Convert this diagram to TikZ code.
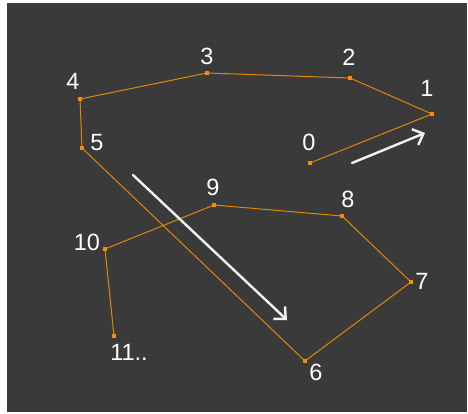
\documentclass[tikz,border=0pt]{standalone}
\usepackage{fontspec}
\setmainfont{Liberation Sans}
\usetikzlibrary{arrows.meta}
\definecolor{bgdark}{RGB}{58,58,58}
\definecolor{pathorange}{RGB}{222,136,10}
\definecolor{dotorange}{RGB}{255,140,0}
\definecolor{arrowwhite}{RGB}{242,242,242}
\tikzset{
  lbl/.style={inner sep=0pt, text=white, font=\fontsize{23.5}{24}\selectfont},
  pathline/.style={draw=pathorange, line width=1pt, line join=round},
  dotmark/.style={fill=dotorange, draw=none, minimum size=4.5pt, inner sep=0pt, rectangle},
  bigarrow/.style={draw=arrowwhite, line width=2.4pt, line cap=round,
    -{Straight Barb[length=9pt,width=17pt,line width=2.4pt]}}
}
\begin{document}
\begin{tikzpicture}[x=1pt,y=-1pt]
\useasboundingbox (0,0) rectangle (468,413);
\fill[white] (0,0) rectangle (468,413);
\fill[bgdark] (7,3) rectangle (467,412);
% points
\coordinate (p0) at (310,163);
\coordinate (p1) at (432,114);
\coordinate (p2) at (350,78);
\coordinate (p3) at (207,73);
\coordinate (p4) at (80,99);
\coordinate (p5) at (82,148);
\coordinate (p6) at (305,361);
\coordinate (p7) at (411,282);
\coordinate (p8) at (342,216);
\coordinate (p9) at (214,205);
\coordinate (p10) at (105,249);
\coordinate (p11) at (114,336);
\draw[pathline] (p0) -- (p1) -- (p2) -- (p3) -- (p4) -- (p5) -- (p6) -- (p7) -- (p8) -- (p9) -- (p10) -- (p11);
\foreach \i in {0,...,11} { \node[dotmark] (d\i) at (p\i) {}; }
% labels
\node[lbl] (l0) at (309,142) {0};
\node[lbl] (l1) at (427,88) {1};
\node[lbl] (l2) at (349,57) {2};
\node[lbl] (l3) at (207,56) {3};
\node[lbl] (l4) at (73,81) {4};
\node[lbl] (l5) at (97,143) {5};
\node[lbl] (l6) at (316,372) {6};
\node[lbl] (l7) at (422,281) {7};
\node[lbl] (l8) at (348,199) {8};
\node[lbl] (l9) at (213,187) {9};
\node[lbl] (l10) at (87,242) {10};
\node[lbl] (l11) at (129,352) {11..};
% arrows
\coordinate (a1s) at (352,163);
\coordinate (a1e) at (425,133);
\coordinate (a2s) at (133,175);
\coordinate (a2e) at (287,320);
\draw[bigarrow] (a1s) -- (a1e);
\draw[bigarrow] (a2s) -- (a2e);
\end{tikzpicture}
\end{document}
